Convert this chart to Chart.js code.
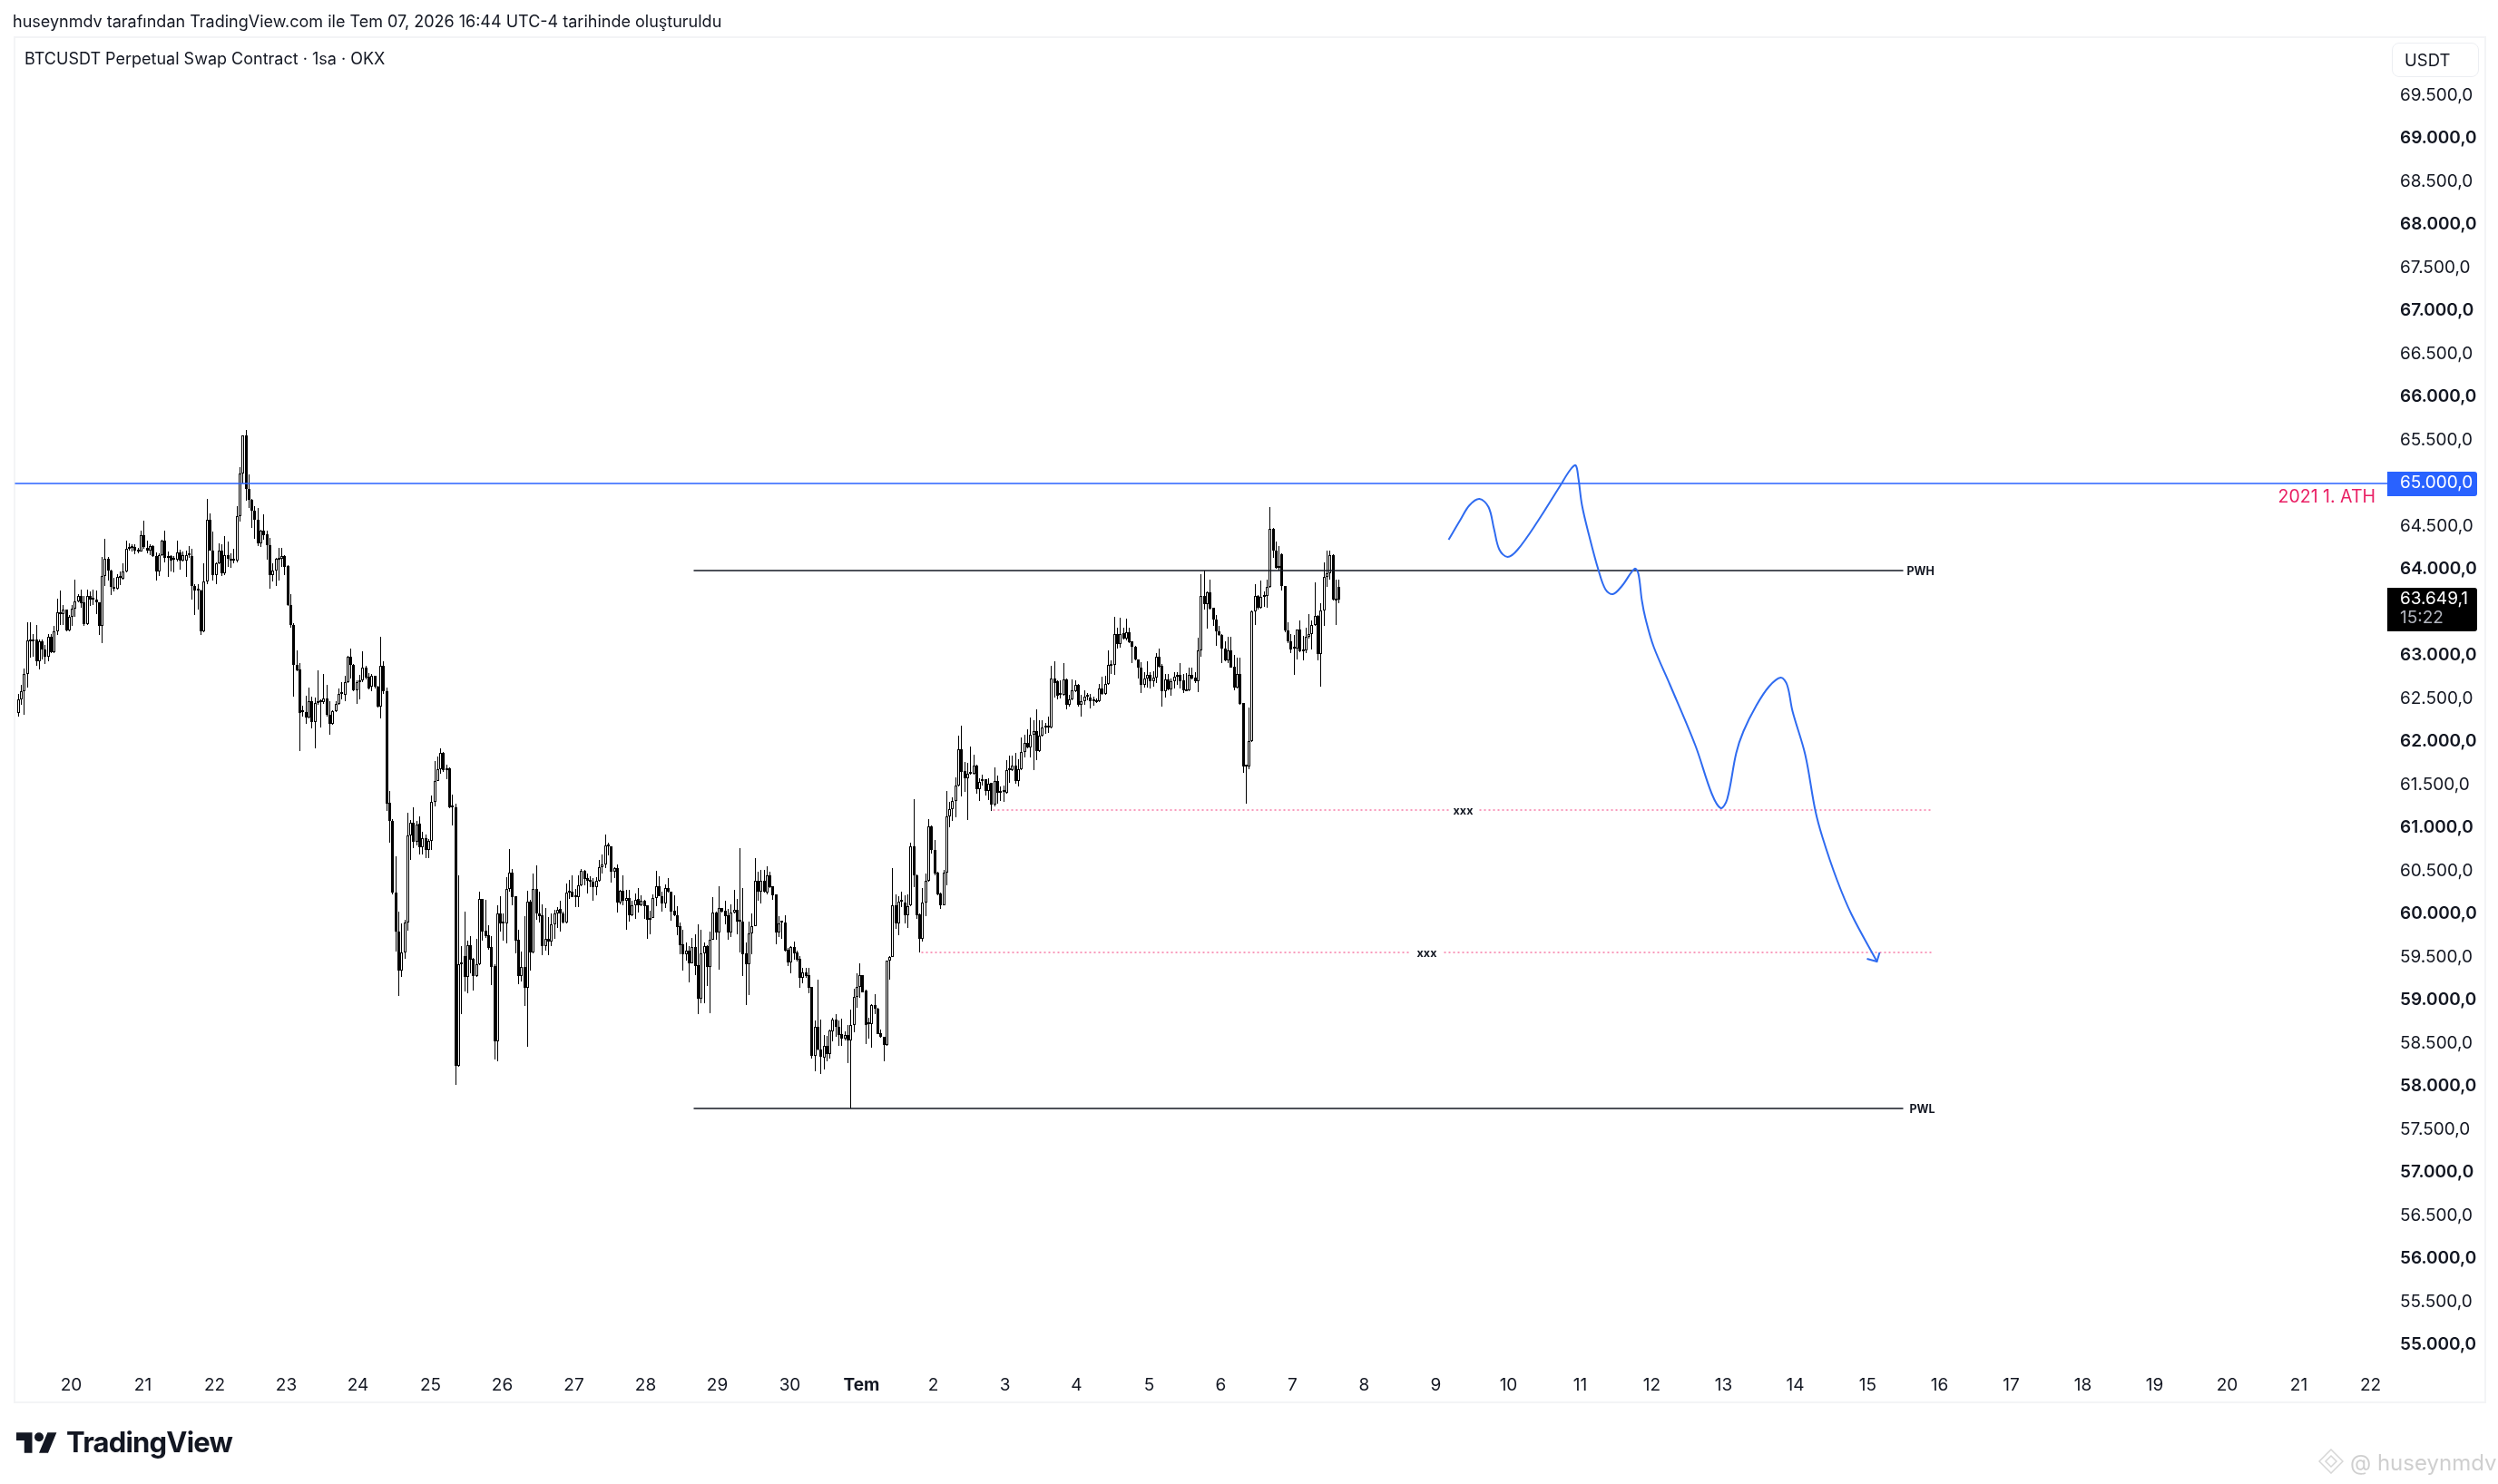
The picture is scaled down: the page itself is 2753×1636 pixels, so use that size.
<!DOCTYPE html>
<html>
<head>
<meta charset="utf-8">
<script src="https://cdn.jsdelivr.net/npm/chart.js@4/dist/chart.umd.min.js"></script>
<style>
  html, body { margin: 0; background: #fff; width: 2753px; height: 1636px; overflow: hidden; font-family: Inter, sans-serif; color: #131722; }
  canvas { position: absolute; left: 0; top: 0; }
  .t { position: absolute; white-space: nowrap; }
  #frame { position: absolute; left: 15px; top: 40px; width: 2721px; height: 1503px; border: 2px solid #f3f4f6; }
  #unit { position: absolute; left: 2636px; top: 47px; width: 94px; height: 36px; border: 1px solid #eceef2; border-radius: 8px; }
</style>
</head>
<body>
<div id="frame"></div>
<canvas id="myChart" width="2753" height="1636"></canvas>
<div class="t" style="left:14px;top:13px;font-size:18px;line-height:22px">huseynmdv tarafından TradingView.com ile Tem 07, 2026 16:44 UTC-4 tarihinde oluşturuldu</div>
<div class="t" style="left:27px;top:54px;font-size:18px;line-height:22px">BTCUSDT Perpetual Swap Contract · 1sa · OKX</div>
<div id="unit"></div>
<div class="t" style="left:2650px;top:55px;font-size:18.5px;line-height:22px">USDT</div>
<svg class="t" style="left:18px;top:1579px" width="45" height="23" viewBox="0 4 36 18"><path d="M14 22H7V11H0V4h14v18zM28 22h-8l7.5-18h8L28 22z" fill="#131722"/><circle cx="20" cy="8" r="4" fill="#131722"/></svg>
<div class="t" style="left:73px;top:1571px;font-size:31px;line-height:38px;font-weight:700;letter-spacing:-0.8px;color:#131722">TradingView</div>
<svg class="t" style="left:2555px;top:1597px" width="28" height="28" viewBox="0 0 28 28" fill="none" stroke="#d6d6d6" stroke-width="1.5"><path d="M14 1l13 13-13 13L1 14z"/><path d="M14 8l6 6-6 6-6-6z"/></svg>
<div class="t" style="left:2590px;top:1597px;font-size:24px;line-height:32px;color:#cfcfcf">@ huseynmdv</div>
<script>
// day labels on the time axis, hours counted from the "20" label
const dayHours = [0,24,48,72,96,120,144,168,192,216,240,264,288,312,336,360,384,408,432,456,480,504,528,552,576,600,624,648,672,696,720,744,768];
const dayLabels = ["20","21","22","23","24","25","26","27","28","29","30","Tem","2","3","4","5","6","7","8","9","10","11","12","13","14","15","16","17","18","19","20","21","22"];
// 63.500 is covered by the last price tag in the original
const priceTicks = [55000,55500,56000,56500,57000,57500,58000,58500,59000,59500,60000,60500,61000,61500,62000,62500,63000,64000,64500,65000,65500,66000,66500,67000,67500,68000,68500,69000,69500];

// hourly candles
const firstHour = -17.5;
const opens = [
62340,62500,62590,62790,63170,63170,63190,62940,63170,63070,62990,63220,63040,63280,63510,63490,63540,63300,63450,63550,
63630,63700,63620,63370,63700,63650,63650,63620,63350,63930,64130,63990,63800,63780,63910,63900,63980,64240,64250,64260,
64220,64210,64400,64250,64220,64270,64160,63980,64170,64340,64140,64160,64120,64120,64200,64110,64110,64170,64160,63810,
63770,63760,63280,63860,64580,64220,63940,64070,64220,63960,64170,64130,64110,64110,64620,65120,65560,64940,64810,64690,
64580,64310,64450,64410,64290,63940,63990,64120,64130,64160,64040,63590,63360,62900,62840,62350,62350,62280,62470,62230,
62450,62460,62460,62510,62320,62210,62360,62440,62560,62550,62700,62990,62900,62600,62700,62720,62860,62760,62640,62770,
62640,62410,62880,62590,61290,61080,60250,59800,59350,59560,59910,60920,61060,60840,61050,60780,60880,60750,60850,61310,
61550,61680,61870,61670,61690,61240,61240,58240,59420,59520,59270,59640,59480,59280,59420,60175,59810,59755,59620,59400,
58530,60010,59895,59900,60290,60480,60210,59705,59280,59385,59150,60145,59560,60290,60010,59985,59635,59720,59680,59880,
60010,60065,60015,59910,60250,60265,60200,60205,60335,60510,60420,60390,60380,60320,60385,60550,60575,60800,60785,60490,
60535,60140,60270,60160,60190,59985,60110,60175,60110,60160,60105,59940,59960,60185,60325,60215,60130,60310,60260,60040,
59995,59860,59650,59540,59580,59435,59620,59410,59025,59545,59630,59395,59710,60020,59795,60070,60040,59990,59795,60020,
60050,59915,59915,59545,59425,59775,59860,60385,60260,60395,60255,60450,60325,60230,59795,59910,59910,59585,59445,59620,
59560,59480,59265,59330,59290,59155,58360,58700,58435,58340,58470,58380,58645,58775,58690,58610,58560,58600,58540,58720,
59045,59155,59290,59115,58725,58730,58945,58910,58620,58575,58480,59460,59510,60110,59890,60145,60140,59990,60105,60790,
60450,60000,59720,60140,60385,61025,60750,60485,60240,60110,60480,61140,61225,61320,61500,61915,61660,61575,61630,61635,
61730,61450,61550,61565,61435,61530,61270,61550,61420,61420,61410,61670,61675,61730,61550,61685,61880,61985,61940,62080,
62130,61890,62075,62170,62170,62170,62740,62710,62545,62550,62725,62435,62500,62595,62660,62435,62475,62525,62520,62470,
62465,62470,62625,62560,62670,62890,62895,63250,63140,63260,63205,63270,63165,63110,62960,62860,62660,62740,62780,62710,
62750,62990,62880,62590,62725,62615,62710,62755,62780,62715,62595,62600,62780,62745,62710,63060,63700,63600,63735,63555,
63420,63280,63245,63080,62950,63065,62870,62630,62785,62450,61720,61720,62010,63516,63700,63560,63680,63700,63800,64470,
64220,64020,64175,63815,63295,63165,63080,63085,63310,63055,63060,63225,63255,63360,63460,63025,63530,63915,63960,64165,
63640,63800];
const highs = [
62560,62660,62850,63390,63390,63250,63360,63190,63190,63130,63250,63250,63350,63660,63760,63590,63540,63470,63590,63880,
63720,63770,63700,63770,63750,63770,63760,63620,64150,64360,64150,64000,63910,63950,63980,64070,64340,64310,64300,64300,
64250,64450,64570,64340,64300,64280,64200,64190,64350,64450,64210,64170,64160,64340,64230,64210,64220,64270,64240,63830,
63830,63770,64070,64820,64650,64440,64090,64310,64300,64390,64330,64190,64240,64740,65190,65560,65620,65110,64820,64740,
64720,64460,64640,64450,64370,64070,64140,64250,64250,64170,64050,63720,63375,63060,62920,62420,62540,62630,62530,62520,
62830,62500,62790,62660,62470,62370,62470,62620,62700,62770,63000,63090,62910,62720,62780,63050,62890,62800,62790,62770,
62650,63220,62940,62630,61430,61110,60670,60030,59890,59940,61180,61100,61240,61080,61140,60960,60930,60870,61380,61780,
61830,61930,61880,61740,61710,61390,61280,60450,59630,60030,59700,59750,59490,59720,60260,60180,60165,59870,59750,59420,
60105,60210,60010,60435,60760,60530,60210,59820,59570,59980,60270,60170,60470,60570,60260,60120,60075,59970,60010,60050,
60080,60160,60030,60360,60400,60450,60290,60450,60530,60520,60470,60440,60420,60435,60630,60700,60925,60830,60795,60550,
60575,60285,60450,60285,60285,60155,60240,60310,60220,60170,60105,60040,60230,60510,60440,60260,60350,60420,60260,60220,
60100,59910,59820,59670,59630,59730,59770,59885,59820,59670,59645,59800,60205,60030,60325,60075,60160,60065,60120,60285,
60180,60770,60310,59675,59920,60010,60650,60495,60520,60520,60560,60495,60325,60230,59980,59915,59990,59610,59630,59680,
59575,59515,59380,59380,59375,59155,58770,59240,58780,58600,58590,58665,58800,58840,58770,58785,58640,58715,58890,59135,
59320,59430,59295,59125,58800,58960,59075,58920,58665,58575,59460,59515,60535,60230,60215,60265,60226,60230,60835,61335,
60460,60015,60305,60470,61105,61035,60860,60490,60250,60520,61430,61305,61355,61590,62075,62190,61770,61755,61945,61850,
61740,61580,61625,61565,61580,61530,61705,61610,61485,61495,61785,61845,61845,61870,61800,62050,62080,62150,62285,62255,
62375,62255,62255,62225,62295,62880,62940,62715,62715,62915,62735,62550,62725,62715,62670,62550,62600,62565,62560,62530,
62505,62670,62755,62770,63060,62950,63450,63330,63445,63330,63430,63330,63165,63115,62960,62930,62810,62940,62810,62820,
63035,63085,62905,62790,62790,62740,62810,62810,62915,62790,62800,62860,62860,62810,63210,63950,63986,63750,63880,63560,
63470,63350,63255,63165,63220,63220,63010,62975,62975,62450,61740,62400,63525,63835,63710,63870,63750,63880,64730,64480,
64325,64270,64185,63815,63390,63255,63245,63310,63410,63235,63330,63480,63415,63855,63470,63610,64090,64220,64220,64175,
63880,63880];
const lows = [
62290,62430,62320,62630,62980,62990,62890,62840,62960,62910,62940,63030,63030,63240,63360,63360,63290,63290,63350,63450,
63620,63560,63350,63360,63580,63590,63480,63240,63150,63810,63870,63710,63750,63770,63820,63890,63970,64220,64210,64180,
64190,64210,64240,64190,64170,64150,63870,63930,64160,64090,63920,63980,63970,64100,64000,64100,63920,64140,63650,63470,
63540,63240,63270,63830,64220,63870,63830,64060,63930,63940,64030,64020,64070,64080,64560,65000,64800,64720,64490,64360,
64270,64260,64350,64120,63780,63860,63810,63870,64030,63940,63580,63330,62530,62820,61890,62300,62210,62270,62160,61930,
62430,62170,62440,62300,62080,62200,62350,62430,62500,62470,62690,62740,62590,62440,62500,62700,62730,62610,62590,62620,
62400,62270,62560,61200,60830,60230,59570,59050,59270,59480,59810,60630,60770,60800,60690,60690,60650,60650,60750,61250,
61550,61630,61650,61570,61230,61030,58020,58235,58840,59110,59080,59320,59120,59270,59410,59700,59730,59590,59180,58320,
58300,59800,59700,59660,60260,60110,59550,59190,59225,58935,58460,59350,59550,59940,59910,59530,59575,59530,59635,59715,
59845,59800,59890,59890,60180,60200,60085,60085,60330,60335,60240,60320,60160,60225,60380,60470,60540,60680,60370,60425,
60025,60120,60110,59825,59915,59980,59950,60020,60100,59945,59715,59770,59960,60100,60210,60030,60075,60250,59925,59980,
59760,59540,59350,59465,59215,59430,59295,58845,58970,58970,59170,58855,59705,59710,59360,60020,59885,59710,59740,60010,
59770,59560,59280,58950,59065,59540,59860,60160,60125,60250,60230,60310,60170,59655,59735,59715,59565,59400,59315,59470,
59450,59150,59205,59260,59085,58330,58180,58425,58145,58205,58290,58330,58525,58575,58470,58470,58540,58275,57745,58630,
58920,59030,59090,58500,58560,58450,58840,58610,58570,58290,58475,59240,59505,59830,59760,60085,59900,59840,60100,60320,
59945,59555,59685,59980,60375,60710,60450,60225,60060,60105,60335,61010,61080,61130,61480,61370,61425,61095,61625,61625,
61400,61320,61495,61380,61330,61200,61250,61285,61320,61305,61400,61530,61660,61520,61485,61675,61825,61930,61825,61670,
61785,61880,62060,62090,62106,62160,62520,62500,62505,62540,62375,62410,62490,62576,62410,62295,62435,62490,62390,62425,
62450,62460,62550,62550,62660,62785,62780,63080,63100,63195,63175,63150,62915,62950,62740,62565,62635,62635,62625,62645,
62690,62860,62410,62520,62600,62540,62625,62660,62625,62565,62585,62590,62730,62680,62576,62990,63540,63320,63540,63350,
63115,63235,62915,62940,62915,62860,62600,62620,62435,61645,61285,61680,62000,63360,63540,63550,63570,63560,63790,64140,
64010,63986,63760,63270,63150,63035,62775,62960,63045,62950,63035,63205,63070,63350,62950,62645,63350,63800,63880,63640,
63360,63610];
const closes = [
62500,62590,62790,63180,63180,63180,62940,63170,63070,62990,63220,63040,63280,63510,63490,63540,63300,63450,63550,63630,
63700,63610,63370,63700,63650,63660,63620,63350,63930,64130,63990,63800,63780,63920,63920,63980,64240,64260,64260,64220,
64210,64400,64260,64220,64270,64160,63980,64170,64340,64140,64160,64110,64120,64200,64110,64170,64170,64180,63810,63760,
63760,63280,63860,64580,64220,63940,64070,64220,63960,64170,64130,64110,64120,64620,65120,65560,64940,64810,64690,64580,
64310,64450,64400,64290,63940,63990,64130,64130,64160,64030,63590,63360,62900,62830,62340,62350,62280,62470,62230,62450,
62460,62460,62510,62320,62210,62360,62440,62560,62570,62700,62990,62900,62600,62700,62720,62860,62750,62620,62770,62640,
62410,62880,62590,61280,61080,60250,59800,59350,59560,59910,60920,61060,60840,61040,60780,60880,60750,60850,61310,61550,
61680,61870,61670,61690,61240,61250,58240,59420,59430,59270,59640,59470,59280,59420,60175,59800,59750,59610,59390,58530,
60010,59890,59905,60290,60480,60200,59700,59280,59385,59150,60145,59560,60290,60010,59980,59635,59720,59680,59880,60010,
60055,60015,59910,60250,60265,60200,60210,60335,60510,60415,60385,60380,60320,60385,60550,60575,60800,60785,60490,60535,
60140,60270,60160,60185,59985,60110,60170,60110,60160,60100,59940,59960,60185,60325,60215,60130,60310,60260,60035,59990,
59855,59645,59540,59575,59435,59620,59400,59025,59545,59630,59395,59710,60020,59795,60070,60030,59980,59795,60020,60050,
59920,59925,59540,59425,59775,59860,60385,60265,60395,60260,60450,60320,60225,59795,59900,59915,59580,59445,59620,59550,
59475,59265,59330,59285,59150,58360,58700,58435,58350,58470,58380,58650,58775,58690,58605,58560,58595,58540,58720,59045,
59155,59290,59100,58720,58735,58945,58905,58615,58575,58480,59460,59510,60110,59890,60150,60155,59990,60100,60790,60450,
59990,59720,60140,60385,61025,60750,60470,60235,60110,60480,61140,61225,61320,61500,61915,61655,61575,61635,61640,61730,
61450,61540,61560,61435,61520,61270,61550,61410,61410,61430,61675,61680,61730,61550,61685,61880,61985,61940,62080,62130,
61890,62075,62170,62175,62175,62740,62690,62540,62555,62725,62435,62500,62600,62660,62435,62470,62530,62535,62470,62480,
62475,62625,62560,62670,62895,62900,63250,63140,63255,63205,63270,63160,63110,62960,62860,62660,62740,62780,62710,62750,
62990,62870,62590,62725,62610,62710,62755,62780,62710,62600,62605,62780,62740,62710,63060,63700,63600,63735,63550,63420,
63280,63245,63080,62950,63065,62865,62630,62785,62445,61720,61730,62010,63516,63700,63560,63680,63700,63800,64470,64220,
64025,64035,63815,63295,63165,63070,63090,63310,63055,63065,63225,63255,63360,63460,63025,63530,63915,63960,64165,63650,
63650,63650];

// drawn levels
const athLevel = 65000, pwhLevel = 63985, pwlLevel = 57747, xxxUpper = 61211, xxxLower = 59555;
const lastPrice = 63649.1;
const pathHours = [460.1,464.1,467.1,470.4,473.4,475.2,477.2,479.9,483.2,489.8,497,500.8,502.6,503.6,504.8,507.2,510.2,512.6,515,518,522.2,523.6,524.6,525.8,528.7,534.1,542.5,547.9,550.9,553.3,556.3,558.7,562.9,567.1,571,573.1,574.9,579.1,582.6,585,589.8,594.6,603];
const pathPrices = [64352,64580,64747,64817,64726,64476,64227,64144,64227,64560,64955,65163,65213,65059,64747,64393,63998,63769,63719,63811,64006,63956,63644,63436,63104,62667,61960,61398,61232,61336,61876,62126,62417,62646,62750,62667,62355,61856,61211,60899,60400,60004,59451];
const arrowHours = [599.8,603,604], arrowPrices = [59484,59451,59555];

const hourOf = i => firstHour + i;
const pairs = (xs, ys) => xs.map((x, i) => ({ x, y: ys[i] }));
const seg = (a, b, y) => [{ x: a, y }, { x: b, y }];
const hline = (data, color, dash, width) => ({ type: "line", data, borderColor: color, borderWidth: width || 1.5, borderDash: dash || [], pointRadius: 0, tension: 0, order: 2 });

// keep candles on whole device pixels the way the original does
class PixelX extends Chart.LinearScale {
  getPixelForValue(v) { return Math.floor(super.getPixelForValue(v)) + 0.5; }
}
PixelX.id = "pixelX"; PixelX.defaults = Chart.LinearScale.defaults;
class PixelY extends Chart.LinearScale {
  getPixelForValue(v) { return Math.round(super.getPixelForValue(v)); }
}
PixelY.id = "pixelY"; PixelY.defaults = Chart.LinearScale.defaults;
Chart.register(PixelX, PixelY);

const priceText = v => {
  const [a, b] = v.toFixed(1).split(".");
  return a.slice(0, -3) + "." + a.slice(-3) + "," + b;
};

const overlays = {
  id: "overlays",
  afterDraw(chart) {
    const { ctx, scales: { x, y } } = chart;
    const label = (s, h, p, align) => {
      ctx.font = "700 12.5px Inter"; ctx.fillStyle = "#131722"; ctx.textAlign = align || "left"; ctx.textBaseline = "middle";
      ctx.fillText(s, x.getPixelForValue(h), y.getPixelForValue(p) + 1);
    };
    label("PWH", 613.3, pwhLevel);
    label("PWL", 614, pwlLevel);
    label("xxx", 465, xxxUpper, "center");
    label("xxx", 453, xxxLower, "center");
    ctx.font = "19.5px Inter"; ctx.fillStyle = "#e91e63"; ctx.textAlign = "right"; ctx.textBaseline = "middle";
    ctx.fillText("2021 1. ATH", 2618, y.getPixelForValue(athLevel) + 15);
    // price tags on the axis
    const tagL = 2631, tagW = 99, textX = 2645;
    const yAth = y.getPixelForValue(athLevel);
    ctx.fillStyle = "#2962ff";
    ctx.beginPath(); ctx.roundRect(tagL, yAth - 13, tagW, 27, [0, 3, 3, 0]); ctx.fill();
    ctx.font = "19px Inter"; ctx.textAlign = "left"; ctx.fillStyle = "#fff";
    ctx.fillText(priceText(athLevel), textX, yAth - 1);
    const yLast = y.getPixelForValue(lastPrice);
    ctx.fillStyle = "#000";
    ctx.beginPath(); ctx.roundRect(tagL, yLast - 13, tagW, 48, [0, 3, 3, 0]); ctx.fill();
    ctx.fillStyle = "#fff"; ctx.fillText(priceText(lastPrice), textX, yLast - 1);
    ctx.fillStyle = "#b2b5be"; ctx.fillText("15:22", textX, yLast + 20);
  }
};

Chart.defaults.font.family = "Inter, sans-serif";
Chart.defaults.animation = false;

new Chart(document.getElementById("myChart"), {
  type: "bar",
  data: {
    datasets: [
      { data: opens.map((o, i) => ({ x: hourOf(i), y: [lows[i], highs[i]] })), backgroundColor: "#000", borderWidth: 0, barThickness: 1, grouped: false, inflateAmount: 0, order: 5 },
      { data: opens.map((o, i) => ({ x: hourOf(i), y: [o, closes[i]] })), backgroundColor: opens.map((o, i) => closes[i] >= o ? "#fff" : "#000"), borderColor: "#000", borderWidth: 1, borderSkipped: false, barThickness: 3, grouped: false, inflateAmount: 0, minBarLength: 2, order: 4 },
      hline(seg(-18.8, 773.6, athLevel), "#2962ff"),
      hline(seg(207.9, 612, pwhLevel), "#131722"),
      hline(seg(207.9, 612, pwlLevel), "#131722"),
      hline(seg(307.9, 460, xxxUpper), "#f23678", [2, 3], 1),
      hline(seg(470.3, 622, xxxUpper), "#f23678", [2, 3], 1),
      hline(seg(284, 447.6, xxxLower), "#f23678", [2, 3], 1),
      hline(seg(458.5, 621.2, xxxLower), "#f23678", [2, 3], 1),
      { type: "line", data: pairs(pathHours, pathPrices), borderColor: "#2f6bf0", borderWidth: 2, pointRadius: 0, tension: 0.35, order: 1 },
      { type: "line", data: pairs(arrowHours, arrowPrices), borderColor: "#2f6bf0", borderWidth: 2, pointRadius: 0, tension: 0, order: 1 }
    ]
  },
  options: {
    responsive: false,
    devicePixelRatio: 1,
    layout: { padding: { left: 16, top: 41, right: 15, bottom: 90 } },
    plugins: { legend: { display: false }, tooltip: { enabled: false } },
    scales: {
      x: {
        type: "pixelX", min: -18.8, max: 773.6, offset: false,
        grid: { display: false, drawTicks: false }, border: { display: false },
        afterBuildTicks: s => { s.ticks = dayHours.map(value => ({ value })); },
        afterFit: s => { s.height = 44; },
        ticks: {
          autoSkip: false, maxRotation: 0, padding: 14, color: "#131722",
          font: c => ({ size: 19, weight: dayLabels[c.index] === "Tem" ? "700" : "400" }),
          callback: (v, i) => dayLabels[i]
        }
      },
      y: {
        type: "pixelY", position: "right", min: 54800, max: 70180,
        grid: { display: false, drawTicks: false }, border: { display: false },
        afterBuildTicks: s => { s.ticks = priceTicks.map(value => ({ value })); },
        afterFit: s => { s.width = 107; },
        ticks: {
          autoSkip: false, crossAlign: "near", padding: 14, labelOffset: -1, color: "#131722",
          font: c => ({ size: 19, weight: priceTicks[c.index] % 1000 === 0 ? "600" : "400" }),
          callback: v => priceText(v)
        }
      }
    }
  },
  plugins: [overlays]
});
</script>
</body>
</html>
